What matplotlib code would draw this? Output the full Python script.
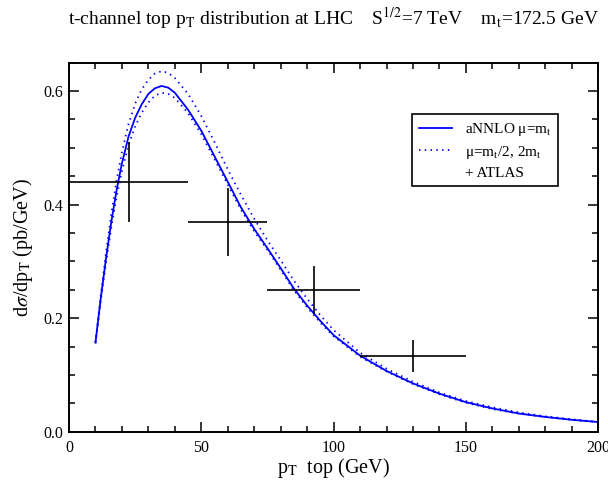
"""t-channel top pT distribution at the LHC: aNNLO curves against ATLAS data."""

import matplotlib

matplotlib.use("Agg")
import matplotlib.pyplot as plt
from matplotlib.lines import Line2D


# aNNLO theory curves (pb/GeV)
PT = [10, 12, 14, 16, 18, 20, 22.5, 25, 27.5, 30, 32.5, 35, 37.5, 40, 45, 50,
      55, 60, 65, 70, 75, 80, 85, 90, 95, 100, 110, 120, 130, 140, 150, 160,
      170, 180, 190, 200]
CENTRAL = [0.157, 0.235, 0.306, 0.370, 0.426, 0.473, 0.520, 0.553, 0.577,
           0.595, 0.605, 0.609, 0.606, 0.597, 0.567, 0.530, 0.485, 0.440,
           0.395, 0.357, 0.323, 0.288, 0.252, 0.222, 0.195, 0.170, 0.134,
           0.107, 0.085, 0.067, 0.052, 0.041, 0.032, 0.026, 0.021, 0.017]
UPPER = [0.158, 0.240, 0.316, 0.384, 0.443, 0.493, 0.542, 0.578, 0.603,
         0.620, 0.631, 0.635, 0.632, 0.623, 0.595, 0.556, 0.510, 0.462,
         0.417, 0.375, 0.337, 0.302, 0.266, 0.234, 0.205, 0.179, 0.139,
         0.111, 0.088, 0.069, 0.054, 0.043, 0.034, 0.027, 0.022, 0.017]
LOWER = [0.156, 0.231, 0.298, 0.360, 0.414, 0.459, 0.505, 0.538, 0.562,
         0.580, 0.592, 0.597, 0.595, 0.588, 0.561, 0.524, 0.480, 0.435,
         0.391, 0.353, 0.320, 0.285, 0.249, 0.219, 0.192, 0.168, 0.132,
         0.106, 0.084, 0.066, 0.051, 0.040, 0.032, 0.026, 0.021, 0.017]

# ATLAS measurement
ATLAS_PT = [22.5, 60, 92.5, 130]
ATLAS_XERR = [22.5, 15, 17.5, 20]
ATLAS_VAL = [0.44, 0.37, 0.25, 0.133]
ATLAS_YERR = [0.07, 0.06, 0.042, 0.028]

TITLE = (r"t-channel top p$_\mathrm{T}$ distribution at LHC    "
         r"S$^{1/2}$=7 TeV    m$_\mathrm{t}$=172.5 GeV")

plt.rcParams["font.family"] = ["Liberation Serif", "DejaVu Serif"]
plt.rcParams["mathtext.fontset"] = "stix"

fig = plt.figure(figsize=(6.08, 4.83), dpi=100)
ax = fig.add_axes([0.1135, 0.1062, 0.8705, 0.764])

blue = "#0000ff"
dotted = (0, (0.8, 2.4))
ax.plot(PT, CENTRAL, color=blue, lw=1.3)
ax.plot(PT, UPPER, color=blue, lw=1.3, linestyle=dotted)
ax.plot(PT, LOWER, color=blue, lw=1.3, linestyle=dotted)
ax.errorbar(ATLAS_PT, ATLAS_VAL, xerr=ATLAS_XERR, yerr=ATLAS_YERR,
            fmt="none", ecolor="black", elinewidth=1.2, capsize=0)

ax.set_xlim(0, 200)
ax.set_ylim(0, 0.65)
ax.set_xticks([0, 50, 100, 150, 200])
ax.set_xticks(range(0, 201, 10), minor=True)
ax.set_yticks([0.0, 0.2, 0.4, 0.6])
ax.set_yticks([i * 0.05 for i in range(14)], minor=True)
ax.set_yticklabels(["0.0", "0.2", "0.4", "0.6"])

ax.tick_params(which="both", direction="in", top=True, right=True,
               labelsize=11.5, width=1.1)
ax.tick_params(which="major", length=7.5)
ax.tick_params(which="minor", length=4)
ax.tick_params(axis="x", pad=6)
ax.tick_params(axis="y", pad=4)
for spine in ax.spines.values():
    spine.set_linewidth(1.4)

ax.set_xlabel(r"p$_\mathrm{T}$  top (GeV)", fontsize=14.5, labelpad=0)
ax.set_ylabel(r"d$\sigma$/dp$_\mathrm{T}$ (pb/GeV)", fontsize=14.5, labelpad=6)

fig.text(0.548, 0.962, TITLE, ha="center", va="center", fontsize=14)

handles = [
    Line2D([], [], color=blue, lw=1.3),
    Line2D([], [], color=blue, lw=1.3, linestyle=dotted),
    Line2D([], [], color="none"),
]
labels = [r"aNNLO μ=m$_\mathrm{t}$",
          r"μ=m$_\mathrm{t}$/2, 2m$_\mathrm{t}$",
          "+ ATLAS"]
leg = ax.legend(handles, labels, loc="upper left",
                bbox_to_anchor=(0.648, 0.86), borderaxespad=0,
                fontsize=11, frameon=True, fancybox=False,
                handlelength=2.2, handletextpad=0.8, borderpad=0.45,
                labelspacing=0.35)
leg.get_frame().set_edgecolor("black")
leg.get_frame().set_linewidth(1.2)
leg.get_frame().set_alpha(1)

fig.savefig("out.png", dpi=100)
